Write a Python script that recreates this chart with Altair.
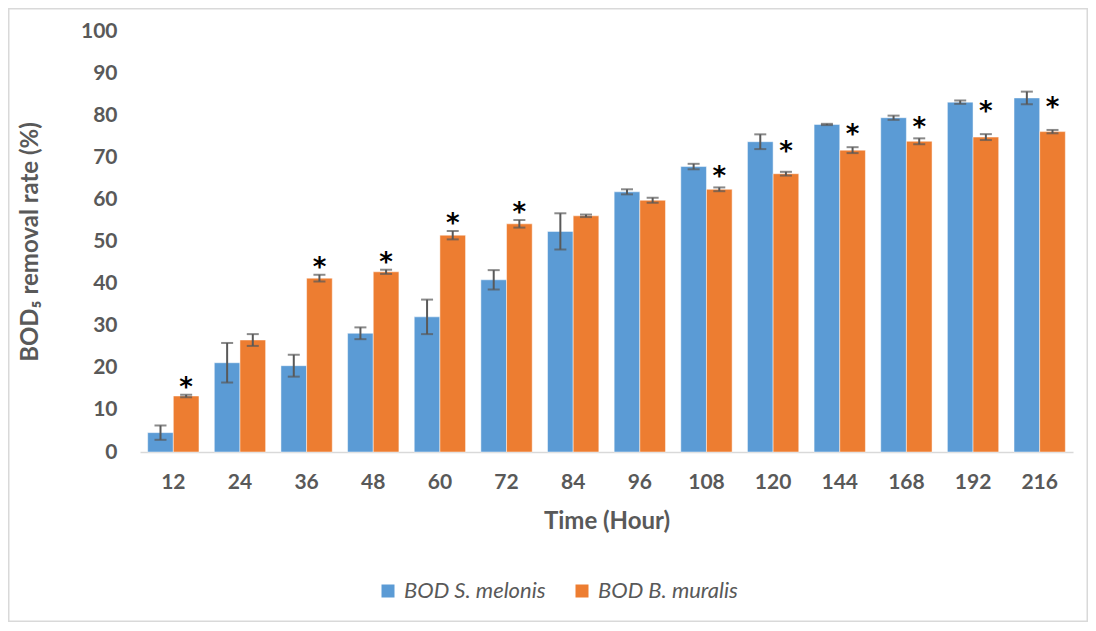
import altair as alt
import pandas as pd

hours = ["12", "24", "36", "48", "60", "72", "84", "96", "108", "120", "144", "168", "192", "216"]
series_names = ["BOD S. melonis", "BOD B. muralis"]
melonis = [4.6, 21.2, 20.5, 28.2, 32.1, 40.9, 52.4, 61.8, 67.8, 73.7, 77.8, 79.4, 83.1, 84.1]
melonis_err = [1.7, 4.7, 2.6, 1.4, 4.1, 2.3, 4.3, 0.6, 0.65, 1.75, 0.15, 0.5, 0.4, 1.5]
muralis = [13.3, 26.6, 41.3, 42.8, 51.5, 54.2, 56.1, 59.8, 62.4, 66.1, 71.7, 73.8, 74.8, 76.1]
muralis_err = [0.3, 1.4, 0.8, 0.5, 1.0, 0.9, 0.3, 0.6, 0.45, 0.45, 0.7, 0.7, 0.7, 0.4]
significant = [True, False, True, True, True, True, False, False, True, True, True, True, True, True]

rows = []
for i, h in enumerate(hours):
    rows.append({"hour": h, "series": series_names[0], "value": melonis[i],
                 "lo": melonis[i] - melonis_err[i], "hi": melonis[i] + melonis_err[i]})
    rows.append({"hour": h, "series": series_names[1], "value": muralis[i],
                 "lo": muralis[i] - muralis_err[i], "hi": muralis[i] + muralis_err[i]})
df = pd.DataFrame(rows)

sig_rows = []
for i, h in enumerate(hours):
    if significant[i]:
        ypos = max(muralis[i] + muralis_err[i] + 3.5, melonis[i] - 0.5)
        sig_rows.append({"hour": h, "series": series_names[1], "ypos": ypos, "label": "*"})
sig_df = pd.DataFrame(sig_rows)

W, H = 933, 421
FONT = "Lato"
GRAY = "#595959"

x_enc = alt.X("hour:N", sort=hours,
              scale=alt.Scale(paddingInner=0.23, paddingOuter=0.115),
              axis=alt.Axis(title="Time (Hour)", labelAngle=0, ticks=False,
                            domainColor="#d9d9d9", domainWidth=1.5,
                            labelFont=FONT, labelFontSize=21, labelFontWeight="bold",
                            labelColor=GRAY, labelPadding=19,
                            titleFont=FONT, titleFontSize=24, titleFontWeight="bold",
                            titleColor=GRAY, titlePadding=17))
xoff = alt.XOffset("series:N", sort=series_names,
                   scale=alt.Scale(domain=series_names, paddingInner=0, paddingOuter=0))

base = alt.Chart(df)

bars = base.mark_bar(stroke="white", strokeWidth=0.8, strokeOpacity=0.6).encode(
    x=x_enc,
    xOffset=xoff,
    y=alt.Y("value:Q", scale=alt.Scale(domain=[0, 100], nice=False),
            axis=alt.Axis(title="BOD₅ removal rate (%)", values=list(range(0, 101, 10)),
                          domain=False, ticks=False, grid=False,
                          labelFont=FONT, labelFontSize=21, labelFontWeight="bold",
                          labelColor=GRAY, labelPadding=23,
                          titleFont=FONT, titleFontSize=24, titleFontWeight="bold",
                          titleColor=GRAY, titlePadding=38)),
    color=alt.Color("series:N", sort=series_names,
                    scale=alt.Scale(domain=series_names, range=["#5B9BD5", "#ED7D31"]),
                    legend=alt.Legend(title=None, orient="none", direction="horizontal",
                                      legendX=237, legendY=549,
                                      symbolType="square", symbolSize=169,
                                      symbolStrokeWidth=0, labelFont=FONT,
                                      labelFontSize=22, labelFontStyle="italic",
                                      labelColor=GRAY, labelOffset=5,
                                      columnPadding=25)),
)

rules = base.mark_rule(color=GRAY, strokeWidth=2).encode(
    x=alt.X("hour:N", sort=hours), xOffset=alt.XOffset("series:N", sort=series_names),
    y=alt.Y("lo:Q"), y2="hi:Q")

caps_hi = base.mark_tick(color=GRAY, thickness=2, size=12).encode(
    x=alt.X("hour:N", sort=hours), xOffset=alt.XOffset("series:N", sort=series_names),
    y="hi:Q")
caps_lo = base.mark_tick(color=GRAY, thickness=2, size=12).encode(
    x=alt.X("hour:N", sort=hours), xOffset=alt.XOffset("series:N", sort=series_names),
    y="lo:Q")

stars = alt.Chart(sig_df).mark_text(fontSize=26, fontWeight="bold", font="DejaVu Sans",
                                    color="black", baseline="middle", dy=8).encode(
    x=alt.X("hour:N", sort=hours), xOffset=alt.XOffset("series:N", sort=series_names),
    y="ypos:Q", text="label:N")

frame = alt.Chart(pd.DataFrame({"a": [0]})).mark_rect(
    filled=False, stroke="#d9d9d9", strokeWidth=1.5).encode(
    x=alt.value(-131.25), x2=alt.value(W + 14.25),
    y=alt.value(-22.25), y2=alt.value(H + 169.25))

chart = alt.layer(frame, bars, rules, caps_hi, caps_lo, stars).properties(
    width=W, height=H,
    background="white",
    autosize=alt.AutoSizeParams(type="none"),
    padding={"left": 132, "top": 23, "right": 15, "bottom": 170},
).configure_view(strokeWidth=0, stroke="transparent"
).configure_axisY(domain=False, grid=False, ticks=False)

chart.save("out.html", embed_options={"renderer": "svg", "actions": False})
